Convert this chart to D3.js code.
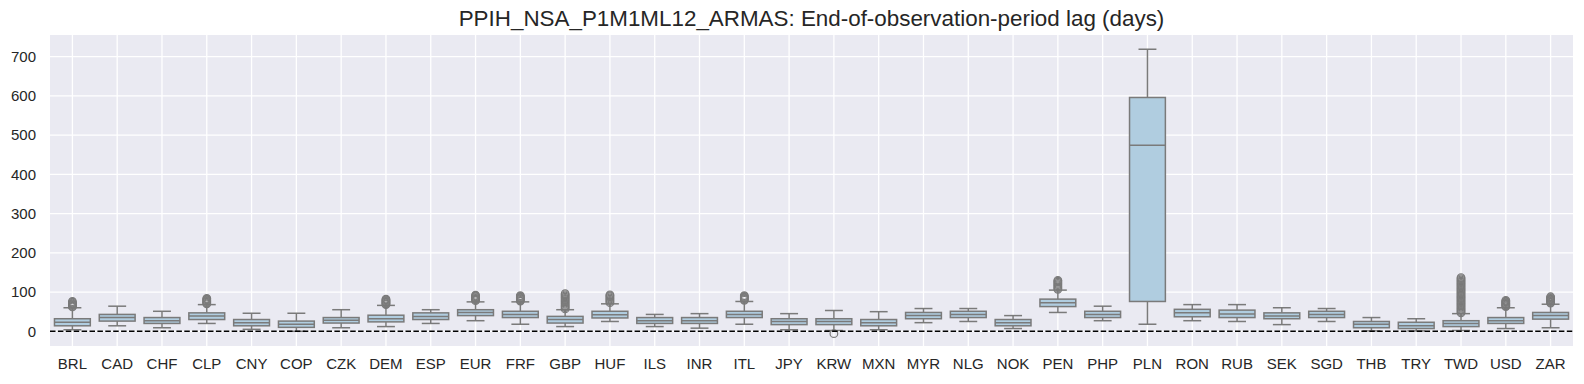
<!DOCTYPE html>
<html><head><meta charset="utf-8">
<script src="https://cdn.jsdelivr.net/npm/d3@7"></script>
<style>body{margin:0;background:#fff;} text{font-family:"Liberation Sans",Arial,sans-serif;fill:#262626;}</style>
</head><body>
<svg id="chart" width="1584" height="384"></svg>
<script>
const categories = ["BRL","CAD","CHF","CLP","CNY","COP","CZK","DEM","ESP","EUR","FRF","GBP","HUF","ILS","INR","ITL","JPY","KRW","MXN","MYR","NLG","NOK","PEN","PHP","PLN","RON","RUB","SEK","SGD","THB","TRY","TWD","USD","ZAR"];
const whiskerHigh = [60,64,51,68,46,46,55,66,55,75,75,55,70,43,45,76,45,53,50,58,58,40,105,64,719,68,68,60,58,35,32,45,60,69];
const q3 =          [32,43,35,47,30,26,35,41,47,55,51,38,51,35,35,51,32,32,30,48,51,30,82,51,596,56,54,47,51,25,23,27,35,48];
const median =      [23,35,27,39,22,18,28,32,38,48,43,30,42,27,27,43,25,25,22,40,43,22,73,43,474,47,44,39,43,18,14,20,27,40];
const q1 =          [14,26,20,30,14,10,21,24,30,40,35,21,34,20,20,35,17,17,14,32,35,14,63,35,76,37,35,32,35,9,7,12,20,31];
const whiskerLow =  [4,14,9,20,5,0,9,12,20,27,18,12,25,12,8,18,4,2,4,22,25,7,48,27,18,27,25,17,25,1,1,2,7,9];
const outliers = [
  [62,64,66,68,70,72,74,76],
  [], [],
  [70,72,74,76,78,80,82,84],
  [], [], [],
  [68,70,72,74,76,78,80,82],
  [],
  [78,80,82,84,86,88,90,92],
  [77,79,81,83,85,87,89,91],
  [57,60,63,66,69,72,75,78,81,84,87,90,93,96],
  [73,76,79,82,85,88,91,93],
  [], [],
  [79,81,83,85,87,89,91],
  [],
  [-6],
  [], [], [], [],
  [107,110,113,116,119,122,125,128,130],
  [], [], [], [], [], [], [], [],
  [47,50,53,56,59,62,65,68,71,74,77,80,83,86,89,92,95,98,101,104,107,110,113,116,119,122,125,128,131,134,137],
  [63,65,67,69,71,73,75,77,79],
  [72,74,76,78,80,82,84,86,88]
];
const yTicks = [0,100,200,300,400,500,600,700];
const title = "PPIH_NSA_P1M1ML12_ARMAS: End-of-observation-period lag (days)";

const svg = d3.select("#chart");
const m = {left:50, right:1573, top:35, bottom:346};
const x = d3.scaleBand().domain(categories).range([m.left, m.right]).padding(0);
const y = d3.scaleLinear().domain([-37.5, 755.3]).range([m.bottom, m.top]);
const boxFill = "#b0cde0", lineCol = "#7a7a7a";

svg.append("rect").attr("x",m.left).attr("y",m.top).attr("width",m.right-m.left).attr("height",m.bottom-m.top).attr("fill","#eaeaf2");

// grid
const g = svg.append("g");
g.selectAll(".hg").data(yTicks).join("line")
  .attr("x1",m.left).attr("x2",m.right).attr("y1",d=>y(d)).attr("y2",d=>y(d))
  .attr("stroke","#fff").attr("stroke-width",1.3);
g.selectAll(".vg").data(categories).join("line")
  .attr("x1",d=>x(d)+x.bandwidth()/2).attr("x2",d=>x(d)+x.bandwidth()/2).attr("y1",m.top).attr("y2",m.bottom)
  .attr("stroke","#fff").attr("stroke-width",1.3);

// axes
const yAxis = d3.axisLeft(y).tickValues(yTicks).tickSize(0).tickPadding(14);
const ya = svg.append("g").attr("transform",`translate(${m.left},0)`).call(yAxis);
ya.select(".domain").remove();
ya.selectAll("text").style("font-size","15px").attr("fill","#262626");
const xAxis = d3.axisBottom(x).tickSize(0).tickPadding(12);
const xa = svg.append("g").attr("transform",`translate(0,${m.bottom})`).call(xAxis);
xa.select(".domain").remove();
xa.selectAll("text").style("font-size","15px").attr("fill","#262626");

// boxes
const bw = x.bandwidth()*0.8;
const boxes = svg.append("g").selectAll("g").data(categories).join("g");
boxes.each(function(c,i){
  const s = d3.select(this);
  const cx = x(c)+x.bandwidth()/2;
  s.append("line").attr("x1",cx).attr("x2",cx).attr("y1",y(q3[i])).attr("y2",y(whiskerHigh[i])).attr("stroke",lineCol).attr("stroke-width",1.5);
  s.append("line").attr("x1",cx).attr("x2",cx).attr("y1",y(q1[i])).attr("y2",y(whiskerLow[i])).attr("stroke",lineCol).attr("stroke-width",1.5);
  s.append("line").attr("x1",cx-bw/4).attr("x2",cx+bw/4).attr("y1",y(whiskerHigh[i])).attr("y2",y(whiskerHigh[i])).attr("stroke",lineCol).attr("stroke-width",1.5);
  s.append("line").attr("x1",cx-bw/4).attr("x2",cx+bw/4).attr("y1",y(whiskerLow[i])).attr("y2",y(whiskerLow[i])).attr("stroke",lineCol).attr("stroke-width",1.5);
  s.append("rect").attr("x",cx-bw/2).attr("width",bw).attr("y",y(q3[i])).attr("height",y(q1[i])-y(q3[i]))
    .attr("fill",boxFill).attr("stroke",lineCol).attr("stroke-width",1.5);
  s.append("line").attr("x1",cx-bw/2).attr("x2",cx+bw/2).attr("y1",y(median[i])).attr("y2",y(median[i])).attr("stroke",lineCol).attr("stroke-width",1.5);
  s.selectAll("circle").data(outliers[i]).join("circle")
    .attr("cx",cx).attr("cy",d=>y(d)).attr("r",3.8).attr("fill","none").attr("stroke",lineCol).attr("stroke-width",1.2);
});

// zero line
svg.append("line").attr("x1",m.left).attr("x2",m.right).attr("y1",y(0)).attr("y2",y(0))
  .attr("stroke","#000").attr("stroke-width",1.4).attr("stroke-dasharray","5.5,2.4");

svg.append("text").attr("x",(m.left+m.right)/2).attr("y",18).attr("text-anchor","middle").attr("dominant-baseline","central")
  .style("font-size","22.4px").text(title);
</script>
</body></html>
